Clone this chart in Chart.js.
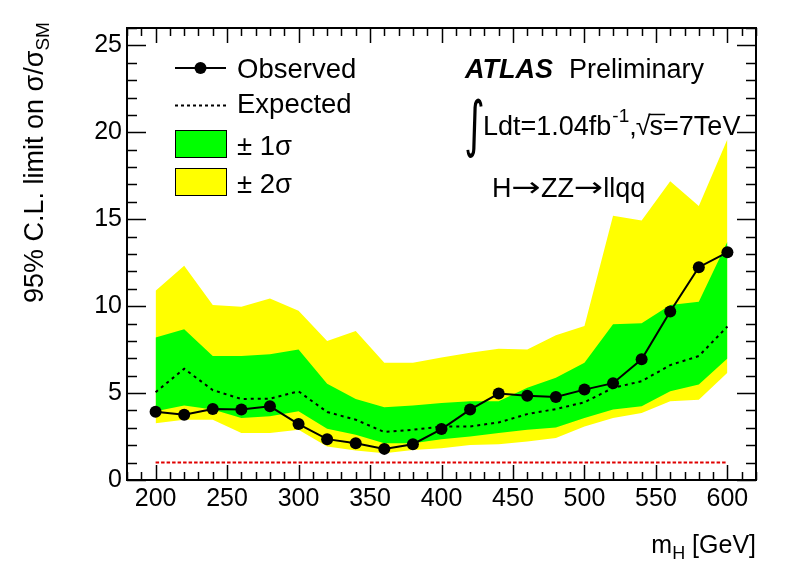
<!DOCTYPE html>
<html>
<head>
<meta charset="utf-8">
<script src="https://cdn.jsdelivr.net/npm/chart.js@4.4.0/dist/chart.umd.min.js"></script>
<style>
  html, body { margin: 0; padding: 0; background: #fff; }
  canvas { display: block; }
</style>
</head>
<body>
<canvas id="limitChart" width="796" height="572"></canvas>
<script>
// Higgs mass points and limits
const massPoints = [200, 220, 240, 260, 280, 300, 320, 340, 360, 380, 400, 420, 440, 460, 480, 500, 520, 540, 560, 580, 600];
const observed = [3.93, 3.76, 4.08, 4.05, 4.24, 3.22, 2.35, 2.12, 1.79, 2.06, 2.93, 4.05, 4.97, 4.84, 4.78, 5.2, 5.57, 6.94, 9.69, 12.24, 13.1];
const expected = [5.05, 6.4, 5.17, 4.66, 4.68, 5.1, 3.91, 3.47, 2.76, 2.89, 3.07, 3.08, 3.31, 3.79, 4.08, 4.47, 5.3, 5.68, 6.61, 7.13, 8.83];
const plusOneSigma = [8.19, 8.67, 7.13, 7.13, 7.23, 7.51, 5.53, 4.66, 4.18, 4.28, 4.43, 4.53, 4.53, 5.3, 5.88, 6.74, 8.96, 9.02, 10.06, 10.25, 13.7];
const minusOneSigma = [3.95, 4.28, 4.05, 3.57, 3.66, 3.95, 2.95, 2.6, 2.12, 2.12, 2.35, 2.5, 2.7, 2.89, 3.02, 3.57, 4.05, 4.24, 5.1, 5.49, 6.99];
const plusTwoSigma = [10.88, 12.33, 10.06, 9.96, 10.44, 9.73, 7.99, 8.57, 6.74, 6.74, 7.05, 7.32, 7.55, 7.51, 8.32, 8.86, 15.2, 14.93, 17.18, 15.76, 19.6];
const minusTwoSigma = [3.27, 3.47, 3.47, 2.7, 2.7, 2.89, 1.93, 1.69, 1.54, 1.73, 1.83, 2.02, 2.06, 2.22, 2.41, 3.08, 3.57, 3.85, 4.53, 4.62, 6.17];
const smMass = [200, 600];
const smLine = [1, 1];

const xTicks = [200, 250, 300, 350, 400, 450, 500, 550, 600];
const yTicks = [0, 5, 10, 15, 20, 25];

const FONT = '"Liberation Sans", Arial, Helvetica, sans-serif';

const toPoints = (xs, ys) => xs.map((x, i) => ({ x: x, y: ys[i] }));

// frame, inner ticks, legend and labels drawn the ROOT way
const rootStyle = {
    id: 'rootStyle',
    afterDraw(chart) {
        const c = chart.ctx;
        const a = chart.chartArea;
        const xs = chart.scales.x;
        const ys = chart.scales.y;
        c.save();

        // ticks
        c.strokeStyle = '#000';
        c.lineWidth = 1.5;
        c.beginPath();
        for (let m = 180; m <= 620; m += 10) {
            const px = Math.round(xs.getPixelForValue(m)) + 0.5;
            const len = xTicks.includes(m) ? 15 : 8;
            c.moveTo(px, a.bottom); c.lineTo(px, a.bottom - len);
            c.moveTo(px, a.top); c.lineTo(px, a.top + len);
        }
        for (let v = 0; v <= 26; v++) {
            const py = Math.round(ys.getPixelForValue(v)) + 0.5;
            const len = yTicks.includes(v) ? 19 : 10;
            c.moveTo(a.left, py); c.lineTo(a.left + len, py);
            c.moveTo(a.right, py); c.lineTo(a.right - len, py);
        }
        c.stroke();

        // frame
        c.lineWidth = 2;
        c.strokeRect(a.left, a.top, a.right - a.left, a.bottom - a.top);

        // legend
        c.fillStyle = '#000';
        c.lineWidth = 2;
        c.beginPath();
        c.moveTo(175, 68); c.lineTo(226, 68);
        c.stroke();
        c.beginPath();
        c.arc(200.5, 68, 6, 0, Math.PI * 2);
        c.fill();
        c.setLineDash([3, 3]);
        c.beginPath();
        c.moveTo(175, 105.5); c.lineTo(226, 105.5);
        c.stroke();
        c.setLineDash([]);
        c.lineWidth = 1;
        c.fillStyle = '#00ff00';
        c.fillRect(175.5, 130.5, 51, 27);
        c.strokeRect(175.5, 130.5, 51, 27);
        c.fillStyle = '#ffff00';
        c.fillRect(175.5, 168.5, 51, 27);
        c.strokeRect(175.5, 168.5, 51, 27);

        c.fillStyle = '#000';
        c.textBaseline = 'alphabetic';
        c.textAlign = 'left';
        c.font = '27.5px ' + FONT;
        c.fillText('Observed', 237, 78);
        c.fillText('Expected', 237, 112.5);
        c.fillText('\u00b1 1\u03c3', 237, 155);
        c.fillText('\u00b1 2\u03c3', 237, 193);

        // ATLAS label
        c.font = 'italic bold 27px ' + FONT;
        c.fillText('ATLAS', 465, 78);
        c.font = '27px ' + FONT;
        c.fillText('Preliminary', 569, 78);

        // integral sign
        c.save();
        c.translate(464, 145);
        c.scale(0.9, 1.4);
        c.font = '44px "DejaVu Sans", sans-serif';
        c.fillText('\u222b', 0, 0);
        c.restore();

        c.font = '27px ' + FONT;
        let tx = 483;
        c.fillText('Ldt=1.04fb', tx, 135);
        tx += c.measureText('Ldt=1.04fb').width;
        c.font = '19px ' + FONT;
        c.fillText('-1', tx + 1, 122);
        tx += c.measureText('-1').width + 1;
        c.font = '27px ' + FONT;
        c.fillText(',', tx, 135);
        tx += c.measureText(',').width;
        c.fillText('\u221a', tx - 1, 135);
        tx += c.measureText('\u221a').width - 2;
        const sw = c.measureText('s').width;
        c.lineWidth = 1.5;
        c.beginPath();
        c.moveTo(tx - 1, 114.5); c.lineTo(tx + sw + 2, 114.5);
        c.stroke();
        c.fillText('s=7TeV', tx, 135);

        // H -> ZZ -> llqq with long arrows
        const parts = ['H', '\u2192', 'ZZ', '\u2192', 'llqq'];
        let hx = 492;
        parts.forEach(p => {
            if (p === '\u2192') {
                c.save();
                c.font = '27px "DejaVu Sans", sans-serif';
                const aw = c.measureText(p).width;
                c.translate(hx, 196);
                c.scale(1.3, 1);
                c.fillText(p, 0, 0);
                c.restore();
                hx += aw * 1.3;
            } else {
                c.font = '27px ' + FONT;
                c.fillText(p, hx, 197);
                hx += c.measureText(p).width;
            }
        });

        // x axis title, right aligned to the frame
        c.font = '25px ' + FONT;
        const wm = c.measureText('m').width;
        const wg = c.measureText(' [GeV]').width;
        c.font = '18px ' + FONT;
        const wh = c.measureText('H').width;
        let x0 = 756 - (wm + wh + wg);
        c.font = '25px ' + FONT;
        c.fillText('m', x0, 553);
        c.font = '18px ' + FONT;
        c.fillText('H', x0 + wm, 559);
        c.font = '25px ' + FONT;
        c.fillText(' [GeV]', x0 + wm + wh, 553);

        // y axis title
        c.save();
        c.translate(43, 303);
        c.rotate(-Math.PI / 2);
        c.font = '27px ' + FONT;
        const ytxt = '95% C.L. limit on \u03c3/\u03c3';
        c.fillText(ytxt, 0, 0);
        const yw = c.measureText(ytxt).width;
        c.font = '19px ' + FONT;
        c.fillText('SM', yw, 6);
        c.restore();

        c.restore();
    }
};

document.addEventListener('DOMContentLoaded', () => {
    const ctx = document.getElementById('limitChart').getContext('2d');
    const noLine = 'rgba(0,0,0,0)';

    new Chart(ctx, {
        type: 'line',
        data: {
            datasets: [{
                label: 'Observed',
                data: toPoints(massPoints, observed),
                borderColor: '#000',
                borderWidth: 2,
                pointRadius: 6,
                pointBackgroundColor: '#000',
                pointBorderColor: '#000',
                pointBorderWidth: 0,
                fill: false,
                order: 0
            }, {
                label: 'Expected',
                data: toPoints(massPoints, expected),
                borderColor: '#000',
                borderWidth: 2,
                borderDash: [3, 4],
                pointRadius: 0,
                fill: false,
                order: 1
            }, {
                label: 'SM',
                data: toPoints(smMass, smLine),
                borderColor: '#e00000',
                borderWidth: 2,
                borderDash: [3.5, 2],
                pointRadius: 0,
                fill: false,
                order: 2
            }, {
                label: '+1 sigma',
                data: toPoints(massPoints, plusOneSigma),
                borderColor: noLine,
                borderWidth: 0,
                backgroundColor: '#00ff00',
                pointRadius: 0,
                fill: 4,
                order: 3
            }, {
                label: '-1 sigma',
                data: toPoints(massPoints, minusOneSigma),
                borderColor: noLine,
                borderWidth: 0,
                pointRadius: 0,
                fill: false,
                order: 4
            }, {
                label: '+2 sigma',
                data: toPoints(massPoints, plusTwoSigma),
                borderColor: noLine,
                borderWidth: 0,
                backgroundColor: '#ffff00',
                pointRadius: 0,
                fill: 6,
                order: 5
            }, {
                label: '-2 sigma',
                data: toPoints(massPoints, minusTwoSigma),
                borderColor: noLine,
                borderWidth: 0,
                pointRadius: 0,
                fill: false,
                order: 6
            }]
        },
        options: {
            responsive: false,
            animation: false,
            events: [],
            layout: { padding: { top: 28, right: 40, left: 0, bottom: 0 } },
            elements: { line: { tension: 0 } },
            plugins: {
                legend: { display: false },
                tooltip: { enabled: false }
            },
            scales: {
                x: {
                    type: 'linear',
                    min: 180,
                    max: 620,
                    grid: { display: false, drawTicks: false },
                    border: { display: false },
                    afterBuildTicks: (scale) => { scale.ticks = xTicks.map(v => ({ value: v })); },
                    afterFit: (scale) => { scale.height = 92; },
                    ticks: {
                        color: '#000',
                        padding: 4,
                        maxRotation: 0,
                        autoSkip: false,
                        font: { family: FONT, size: 25 }
                    }
                },
                y: {
                    min: 0,
                    max: 26,
                    grid: { display: false, drawTicks: false },
                    border: { display: false },
                    afterBuildTicks: (scale) => { scale.ticks = yTicks.map(v => ({ value: v })); },
                    afterFit: (scale) => { scale.width = 127; },
                    ticks: {
                        color: '#000',
                        padding: 5,
                        autoSkip: false,
                        font: { family: FONT, size: 25 }
                    }
                }
            }
        },
        plugins: [rootStyle]
    });
});
</script>
</body>
</html>
